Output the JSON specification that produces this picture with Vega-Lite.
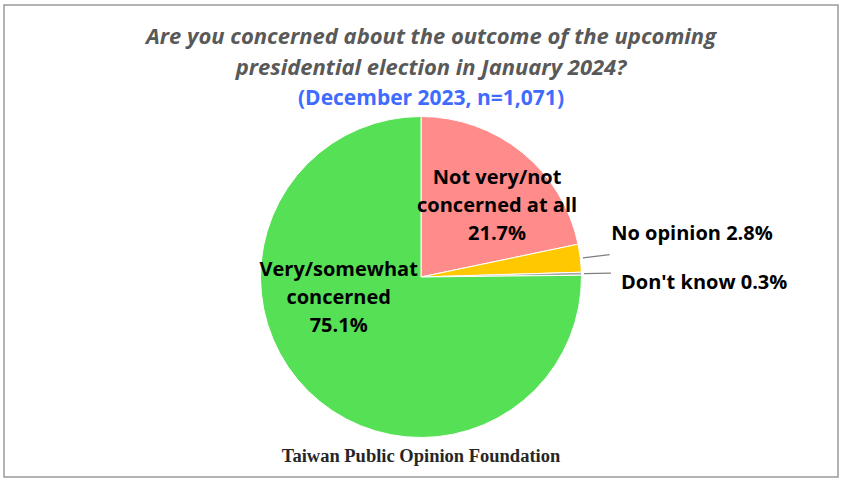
{
  "$schema": "https://vega.github.io/schema/vega-lite/v6.json",
  "width": 834,
  "height": 472,
  "autosize": "none",
  "padding": {"left": 4, "top": 5, "right": 5, "bottom": 3},
  "background": "white",
  "config": {"view": {"stroke": null}},
  "title": {
    "text": ["Are you concerned about the outcome of the upcoming", "presidential election in January 2024?"],
    "subtitle": "(December 2023, n=1,071)",
    "anchor": "middle",
    "offset": -106,
    "dx": 10,
    "font": "Open Sans",
    "fontSize": 22,
    "fontStyle": "italic",
    "fontWeight": "bold",
    "color": "#595959",
    "lineHeight": 31,
    "subtitleFont": "Open Sans",
    "subtitleFontSize": 21,
    "subtitleFontWeight": "bold",
    "subtitleColor": "#3f6bff",
    "subtitlePadding": 8
  },
  "data": {
    "values": [
      {"category": "Not very/not concerned at all", "value": 21.7, "order": 1, "label": "Not very/not\nconcerned at all\n21.7%"},
      {"category": "No opinion", "value": 2.8, "order": 2, "label": "No opinion 2.8%"},
      {"category": "Don't know", "value": 0.3, "order": 3, "label": "Don't know 0.3%"},
      {"category": "Very/somewhat concerned", "value": 75.1, "order": 4, "label": "Very/somewhat\nconcerned\n75.1%"}
    ]
  },
  "layer": [
    {
      "data": {"values": [{"frame": "border"}]},
      "mark": {"type": "rect", "fill": null, "stroke": "#9a9a9a", "strokeWidth": 1.5},
      "encoding": {
        "x": {"value": 0},
        "x2": {"value": "width"},
        "y": {"value": 0},
        "y2": {"value": "height"}
      }
    },
    {
      "mark": {"type": "arc", "outerRadius": 160.5, "stroke": "white", "strokeWidth": 1},
      "encoding": {
        "theta": {"field": "value", "type": "quantitative", "stack": true},
        "order": {"field": "order", "type": "quantitative"},
        "color": {
          "field": "category",
          "type": "nominal",
          "scale": {
            "domain": ["Not very/not concerned at all", "No opinion", "Don't know", "Very/somewhat concerned"],
            "range": ["#ff8b8b", "#ffc800", "#a5a5a5", "#55e055"]
          },
          "legend": null
        },
        "y": {"value": 272}
      }
    },
    {
      "mark": {"type": "arc", "radius": 190, "radius2": 163, "padAngle": 1, "fill": null, "stroke": "#7f7f7f", "strokeWidth": 1.2},
      "encoding": {
        "theta": {"field": "value", "type": "quantitative", "stack": true},
        "order": {"field": "order", "type": "quantitative"},
        "strokeOpacity": {"condition": {"test": "datum.value < 5", "value": 1}, "value": 0},
        "y": {"value": 272}
      }
    },
    {
      "mark": {"type": "text", "radius": 100, "dx": 13, "dy": -21, "align": "center", "baseline": "middle", "lineBreak": "\n", "lineHeight": 28, "font": "Open Sans", "fontSize": 20, "fontWeight": "bold", "color": "black"},
      "encoding": {
        "theta": {"field": "value", "type": "quantitative", "stack": true},
        "order": {"field": "order", "type": "quantitative"},
        "text": {"field": "label", "type": "nominal"},
        "opacity": {"condition": {"test": "datum.order === 1", "value": 1}, "value": 0},
        "y": {"value": 272}
      }
    },
    {
      "mark": {"type": "text", "radius": 190, "dx": 1.5, "dy": -21, "align": "left", "baseline": "middle", "font": "Open Sans", "fontSize": 20, "fontWeight": "bold", "color": "black"},
      "encoding": {
        "theta": {"field": "value", "type": "quantitative", "stack": true},
        "order": {"field": "order", "type": "quantitative"},
        "text": {"field": "label", "type": "nominal"},
        "opacity": {"condition": {"test": "datum.order === 2", "value": 1}, "value": 0},
        "y": {"value": 272}
      }
    },
    {
      "mark": {"type": "text", "radius": 195, "dx": 5, "dy": 10, "align": "left", "baseline": "middle", "font": "Open Sans", "fontSize": 20, "fontWeight": "bold", "color": "black"},
      "encoding": {
        "theta": {"field": "value", "type": "quantitative", "stack": true},
        "order": {"field": "order", "type": "quantitative"},
        "text": {"field": "label", "type": "nominal"},
        "opacity": {"condition": {"test": "datum.order === 3", "value": 1}, "value": 0},
        "y": {"value": 272}
      }
    },
    {
      "mark": {"type": "text", "radius": 100, "dx": -12, "dy": -78, "align": "center", "baseline": "middle", "lineBreak": "\n", "lineHeight": 28, "font": "Open Sans", "fontSize": 20, "fontWeight": "bold", "color": "black"},
      "encoding": {
        "theta": {"field": "value", "type": "quantitative", "stack": true},
        "order": {"field": "order", "type": "quantitative"},
        "text": {"field": "label", "type": "nominal"},
        "opacity": {"condition": {"test": "datum.order === 4", "value": 1}, "value": 0},
        "y": {"value": 272}
      }
    },
    {
      "data": {"values": [{"source": "Taiwan Public Opinion Foundation"}]},
      "mark": {"type": "text", "align": "center", "baseline": "middle", "font": "Liberation Serif", "fontSize": 18.5, "fontWeight": "bold", "color": "#262626"},
      "encoding": {
        "text": {"field": "source", "type": "nominal"},
        "x": {"value": 417},
        "y": {"value": 451}
      }
    }
  ]
}
